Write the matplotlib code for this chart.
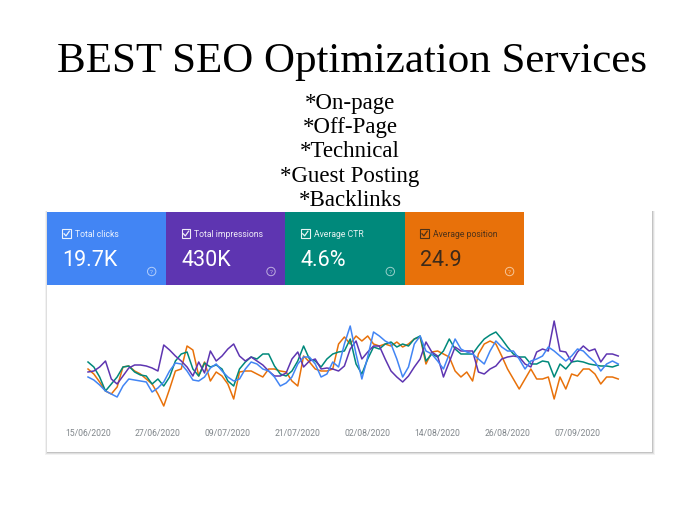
import numpy as np
import pandas as pd
import matplotlib
matplotlib.use('Agg')
import matplotlib.pyplot as plt
from matplotlib.patches import Rectangle, Circle

# one value per day (relative height, no y axis shown)
dates = pd.date_range('2020-06-15', '2020-09-14', freq='D')

clicks = [32, 29, 24, 18, 15, 12, 23, 30, 29, 28,
          27, 17, 21, 27, 38, 46, 45, 38, 29, 28,
          32, 41, 45, 38, 32, 28, 30, 40, 47, 45,
          40, 38, 32, 23, 26, 32, 45, 52, 52, 45,
          32, 35, 47, 42, 65, 83, 55, 30, 52, 77,
          73, 68, 65, 50, 32, 42, 65, 73, 58, 55,
          48, 40, 55, 70, 60, 57, 55, 50, 45, 58,
          68, 62, 58, 58, 50, 40, 48, 50, 53, 62,
          58, 53, 48, 53, 60, 58, 52, 47, 38, 45,
          48, 45]

impressions = [37, 38, 42, 48, 30, 25, 33, 41, 44, 44,
               43, 41, 38, 64, 59, 53, 48, 42, 33, 47,
               36, 58, 48, 53, 60, 65, 53, 48, 52, 48,
               44, 38, 33, 33, 36, 50, 57, 42, 48, 50,
               40, 41, 40, 38, 43, 60, 68, 50, 57, 63,
               63, 50, 38, 32, 27, 33, 42, 50, 67, 57,
               53, 32, 47, 62, 58, 58, 58, 37, 35, 40,
               43, 50, 52, 53, 52, 45, 42, 57, 60, 58,
               88, 58, 57, 47, 57, 63, 58, 60, 47, 55,
               55, 53]

ctr = [47, 42, 32, 18, 25, 32, 42, 43, 37, 34,
       33, 25, 30, 23, 32, 48, 55, 57, 40, 33,
       46, 42, 44, 40, 28, 23, 40, 47, 52, 50,
       55, 55, 43, 35, 33, 38, 48, 63, 50, 48,
       42, 50, 55, 57, 58, 70, 45, 35, 50, 62,
       60, 65, 67, 62, 65, 63, 70, 73, 48, 55,
       52, 58, 70, 60, 55, 55, 55, 63, 70, 74,
       77, 70, 62, 55, 52, 52, 45, 45, 48, 47,
       32, 45, 40, 47, 48, 47, 45, 44, 43, 43,
       42, 44]

position = [40, 35, 27, 18, 15, 22, 42, 43, 38, 35,
            30, 25, 15, 3, 20, 38, 40, 63, 59, 33,
            47, 28, 37, 33, 25, 10, 37, 38, 38, 35,
            32, 40, 40, 38, 37, 28, 23, 53, 47, 40,
            38, 38, 40, 65, 72, 65, 73, 68, 73, 65,
            63, 65, 63, 67, 62, 65, 70, 72, 45, 57,
            58, 55, 52, 38, 32, 37, 28, 55, 65, 68,
            65, 53, 40, 30, 20, 30, 40, 30, 30, 32,
            10, 32, 20, 35, 33, 40, 40, 35, 25, 32,
            32, 30]

card_labels = ['Total clicks', 'Total impressions', 'Average CTR', 'Average position']
card_values = ['19.7K', '430K', '4.6%', '24.9']
card_colors = ['#4285f4', '#5e35b1', '#00897b', '#e8710a']
services = ['On-page', 'Off-Page', 'Technical', 'Guest Posting', 'Backlinks']

fig = plt.figure(figsize=(6.8, 5.1), dpi=100)
fig.patch.set_facecolor('white')

# background layer in pixel coordinates
bg = fig.add_axes([0, 0, 1, 1], zorder=0)
bg.set_xlim(0, 680)
bg.set_ylim(510, 0)
bg.axis('off')

bg.text(352, 72, 'BEST SEO Optimization Services', ha='center', va='baseline',
        fontfamily='Liberation Serif', fontsize=31, color='black')
for i, s in enumerate(services):
    bg.text(350, 109 + i * 24.2, '*' + s, ha='center', va='baseline',
            fontfamily='Liberation Serif', fontsize=16.5, color='black')

# card panel with soft shadow
for k, a in [(3, 0.05), (2, 0.08), (1, 0.12)]:
    bg.add_patch(Rectangle((47 - k + 1, 212), 605 + 2 * k - 1, 241 + k,
                           facecolor='#000000', alpha=a, lw=0))
bg.add_patch(Rectangle((47, 212), 605, 241, facecolor='white', lw=0))

card_w = 119.3
for i, (lab, val, col) in enumerate(zip(card_labels, card_values, card_colors)):
    x0 = 46.7 + i * card_w
    bg.add_patch(Rectangle((x0, 213), card_w, 73, facecolor=col, lw=0))
    fg = '#3c2a1a' if i == 3 else 'white'
    # checkbox
    bg.add_patch(Rectangle((x0 + 15.5, 230.3), 8.8, 8.8, facecolor='none',
                           edgecolor=fg, lw=0.8, alpha=0.9))
    bg.plot([x0 + 17.4, x0 + 19.3, x0 + 22.6], [234.8, 236.9, 232.2],
            color=fg, lw=0.9, alpha=0.9)
    bg.text(x0 + 28.5, 234.6, lab, ha='left', va='center', fontfamily='Roboto',
            fontsize=6.2, color=fg, alpha=0.9)
    bg.text(x0 + 15.3, 266.3, val, ha='left', va='baseline', fontfamily='Roboto',
            fontsize=15.5, color=fg if i == 3 else 'white')
    # help icon
    hc = '#f6c79a' if i == 3 else (1, 1, 1, 0.6)
    bg.add_patch(Circle((x0 + 105, 272.5), 4.2, facecolor='none', edgecolor=hc, lw=0.7))
    bg.text(x0 + 105, 272.7, '?', ha='center', va='center', fontfamily='Roboto',
            fontsize=4.5, color=hc)

# line chart
x = np.arange(len(dates))
px_day = 5.827
ax = fig.add_axes([88 / 680, 100 / 510, px_day * 91 / 680, 90 / 510], zorder=2)
ax.patch.set_alpha(0)
ax.plot(x, position, color='#e8710a', lw=1.1, clip_on=False)
ax.plot(x, ctr, color='#00897b', lw=1.1, clip_on=False)
ax.plot(x, impressions, color='#5e35b1', lw=1.1, clip_on=False)
ax.plot(x, clicks, color='#4285f4', lw=1.1, clip_on=False)
ax.set_xlim(0, 91)
ax.set_ylim(0, 90)
for sp in ax.spines.values():
    sp.set_visible(False)
ax.set_yticks([])
ticks = x[::12]
ax.set_xticks(ticks)
ax.set_xticklabels([dates[t].strftime('%d/%m/%Y') for t in ticks],
                   fontfamily='Roboto', fontsize=6.2, color='#80868b')
ax.tick_params(axis='x', length=0, pad=14)

fig.savefig('out.png', dpi=100, facecolor='white')
